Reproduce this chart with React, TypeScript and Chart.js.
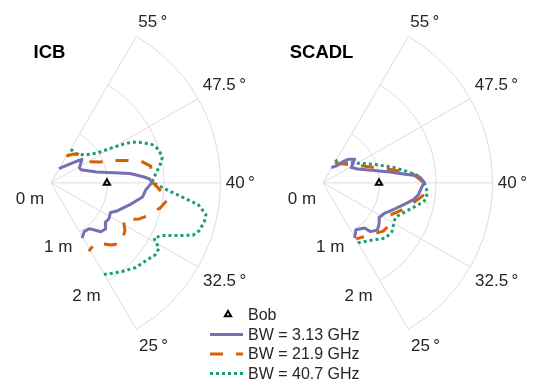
import React, { useEffect, useRef } from "react";
import { Chart, registerables } from "chart.js";

Chart.register(...registerables);

// ---------------- data ----------------
const PANEL_TITLES = ["ICB", "SCADL"];
const SERIES_LABELS = ["BW = 3.13 GHz", "BW = 21.9 GHz", "BW = 40.7 GHz"];
const BOB_LABEL = "Bob";
const BOB_THETA = 40;
const BOB_R = 0.99;

const THETA_TICKS = [25, 32.5, 40, 47.5, 55];
const THETA_TICK_LABELS = ["25\u2009°", "32.5\u2009°", "40\u2009°", "47.5\u2009°", "55\u2009°"];
const R_TICKS = [0, 1, 2];
const R_TICK_LABELS = ["0 m", "1 m", "2 m"];
const R_RINGS = [1, 2, 3];
const THETA_MIN = 25;
const THETA_MAX = 55;
const R_MAX = 3;

// ICB panel
const ICB_BW1_THETA = [55.2, 51.4, 49.95, 49.35, 47.0, 45.9, 43.4, 42.3, 41.7, 41.0, 40.6, 40.07, 38.9, 37.8, 36.1, 34.05, 33.35, 31.9, 31.0, 29.9, 28.8, 28.05, 27.35, 26.0, 24.8];
const ICB_BW1_R = [0.29, 0.47, 0.61, 0.69, 0.57, 0.58, 0.83, 1.12, 1.41, 1.62, 1.74, 1.79, 1.68, 1.64, 1.45, 1.26, 1.18, 1.21, 1.19, 1.27, 1.24, 1.13, 1.06, 1.05, 1.13];

const ICB_BW2_THETA = [55.1, 53.2, 51.9, 47.3, 45.8, 44.85, 44.1, 43.4, 42.4, 40.1, 39.45, 38.0, 36.8, 35.4, 34.4, 33.2, 31.75, 29.8, 28.5, 26.55, 24.7];
const ICB_BW2_R = [0.55, 0.64, 0.7, 0.77, 0.95, 1.2, 1.42, 1.64, 1.79, 1.79, 1.88, 2.09, 1.99, 1.83, 1.69, 1.44, 1.56, 1.65, 1.54, 1.33, 1.39];

const ICB_BW3_THETA = [54.9, 53.0, 51.3, 49.5, 48.3, 47.6, 47.1, 46.7, 46.0, 45.2, 44.3, 43.2, 42.4, 41.6, 40.8, 40.1, 39.5, 38.9, 38.35, 37.9, 37.1, 36.4, 35.5, 34.9, 34.2, 33.6, 32.9, 32.4, 32.15, 31.3, 30.1, 28.7, 27.25, 25.9, 24.9];
const ICB_BW3_R = [0.7, 0.67, 0.71, 0.82, 0.97, 1.22, 1.45, 1.62, 1.77, 1.92, 2.0, 2.02, 1.96, 1.89, 1.83, 1.79, 1.94, 2.14, 2.38, 2.63, 2.8, 2.8, 2.76, 2.68, 2.39, 2.18, 2.07, 2.18, 2.24, 2.25, 2.18, 2.13, 2.03, 1.94, 1.88];

// SCADL panel
const SCADL_BW1_THETA = [55.4, 52.9, 51.7, 50.9, 49.25, 47.2, 45.5, 43.4, 42.3, 41.6, 41.2, 40.9, 40.1, 39.2, 38.2, 37.35, 36.2, 34.85, 33.45, 32.1, 30.95, 29.7, 28.5, 28.1, 26.2, 24.9];
const SCADL_BW1_R = [0.31, 0.39, 0.52, 0.61, 0.7, 0.57, 0.66, 0.93, 1.2, 1.43, 1.6, 1.71, 1.79, 1.74, 1.7, 1.63, 1.48, 1.34, 1.22, 1.17, 1.23, 1.28, 1.21, 1.09, 1.02, 1.13];

const SCADL_BW2_THETA = [54.85, 52.5, 49.7, 46.1, 44.4, 43.1, 42.2, 41.45, 40.1, 38.15, 36.9, 34.95, 33.55, 31.7, 30.25, 27.5, 25.1];
const SCADL_BW2_R = [0.42, 0.45, 0.53, 0.74, 0.92, 1.16, 1.38, 1.6, 1.77, 1.78, 1.64, 1.45, 1.32, 1.39, 1.37, 1.23, 1.16];

const SCADL_BW3_THETA = [55.5, 52.75, 49.8, 46.3, 44.65, 43.1, 42.0, 41.1, 40.1, 38.6, 37.4, 36.5, 35.3, 33.6, 32.4, 31.1, 29.55, 27.9, 26.25, 24.8];
const SCADL_BW3_R = [0.47, 0.43, 0.57, 0.81, 1.01, 1.28, 1.49, 1.68, 1.79, 1.86, 1.82, 1.7, 1.56, 1.42, 1.45, 1.5, 1.48, 1.36, 1.28, 1.23];

const PANEL_SERIES = [
  [
    [ICB_BW1_THETA, ICB_BW1_R],
    [ICB_BW2_THETA, ICB_BW2_R],
    [ICB_BW3_THETA, ICB_BW3_R],
  ],
  [
    [SCADL_BW1_THETA, SCADL_BW1_R],
    [SCADL_BW2_THETA, SCADL_BW2_R],
    [SCADL_BW3_THETA, SCADL_BW3_R],
  ],
];

// ---------------- styles / layout ----------------
const W = 536;
const H = 388;
const PX_PER_M = 57.8;
const ORIGIN_PX = [46, 324.3];
const ORIGIN_Y_PX = 182.5;
const THETA_CENTER = 40;
const ANGLE_STRETCH = 120 / (THETA_MAX - THETA_MIN);

const X_MIN = -ORIGIN_PX[0] / PX_PER_M;
const X_MAX = X_MIN + W / PX_PER_M;
const Y_MAX = ORIGIN_Y_PX / PX_PER_M;
const Y_MIN = Y_MAX - H / PX_PER_M;
const PANEL_OFFSET = (ORIGIN_PX[1] - ORIGIN_PX[0]) / PX_PER_M;

const SERIES_COLORS = ["#7570b3", "#d95f02", "#1b9e77"];
const SERIES_DASH = [[], [13, 13], [3, 3]];
const GRID_COLOR = "#dcdcdc";
const TEXT_COLOR = "#262626";
const FONT_FAMILY = '"Liberation Sans", Arial, Helvetica, sans-serif';

const THETA_LABEL_DX = [3.2, 5.2, 5.3, 4.9, 2.5];
const THETA_LABEL_DY = [18, 14.7, 0.8, -13.8, -15.3];
const R_LABEL_DX = -21;
const R_LABEL_DY = 16;
const TITLE_DY = -124.5;

const LEGEND_SAMPLE_X0 = 210;
const LEGEND_SAMPLE_X1 = 243;
const LEGEND_TEXT_X = 248;
const LEGEND_ROW_Y = [314.5, 334.5, 354, 373.5];

const dispRad = (theta: number) => ((theta - THETA_CENTER) * ANGLE_STRETCH * Math.PI) / 180;
const toXY = (theta: number, r: number, off: number) => {
  const a = dispRad(theta);
  return { x: off + r * Math.cos(a), y: r * Math.sin(a) };
};

const polarGridPlugin = {
  id: "polarGrid",
  beforeDatasetsDraw(chart: any) {
    const { ctx, scales } = chart;
    const xs = scales.x;
    const ys = scales.y;
    PANEL_TITLES.forEach((title, p) => {
      const off = p * PANEL_OFFSET;
      const cx = xs.getPixelForValue(off);
      const cy = ys.getPixelForValue(0);
      const pxm = xs.getPixelForValue(off + 1) - cx;
      ctx.save();
      ctx.strokeStyle = GRID_COLOR;
      ctx.lineWidth = 1;
      R_RINGS.forEach((r) => {
        ctx.beginPath();
        ctx.arc(cx, cy, r * pxm, -dispRad(THETA_MAX), -dispRad(THETA_MIN), false);
        ctx.stroke();
      });
      THETA_TICKS.forEach((t) => {
        const pt = toXY(t, R_MAX, off);
        ctx.beginPath();
        ctx.moveTo(cx, cy);
        ctx.lineTo(xs.getPixelForValue(pt.x), ys.getPixelForValue(pt.y));
        ctx.stroke();
      });
      ctx.fillStyle = TEXT_COLOR;
      ctx.font = `17px ${FONT_FAMILY}`;
      ctx.textBaseline = "middle";
      ctx.textAlign = "left";
      THETA_TICKS.forEach((t, i) => {
        const pt = toXY(t, R_MAX, off);
        ctx.fillText(
          THETA_TICK_LABELS[i],
          xs.getPixelForValue(pt.x) + THETA_LABEL_DX[i],
          ys.getPixelForValue(pt.y) + THETA_LABEL_DY[i]
        );
      });
      ctx.textAlign = "center";
      R_TICKS.forEach((r, i) => {
        const pt = toXY(THETA_MIN, r, off);
        ctx.fillText(
          R_TICK_LABELS[i],
          xs.getPixelForValue(pt.x) + R_LABEL_DX,
          ys.getPixelForValue(pt.y) + R_LABEL_DY
        );
      });
      ctx.fillStyle = "#000";
      ctx.font = `bold 18.5px ${FONT_FAMILY}`;
      ctx.textBaseline = "alphabetic";
      ctx.fillText(title, cx - 1.5, cy + TITLE_DY);
      ctx.restore();
    });
  },
};

const legendPlugin = {
  id: "customLegend",
  afterDraw(chart: any) {
    const { ctx } = chart;
    ctx.save();
    ctx.font = `16px ${FONT_FAMILY}`;
    ctx.textBaseline = "middle";
    ctx.textAlign = "left";
    const mx = (LEGEND_SAMPLE_X0 + LEGEND_SAMPLE_X1) / 2 + 1.5;
    const my = LEGEND_ROW_Y[0];
    const rad = 3.6;
    ctx.beginPath();
    for (let k = 0; k < 3; k++) {
      const a = (k * 2 * Math.PI) / 3;
      const px = mx + Math.sin(a) * rad;
      const py = my - Math.cos(a) * rad;
      if (k === 0) ctx.moveTo(px, py);
      else ctx.lineTo(px, py);
    }
    ctx.closePath();
    ctx.fillStyle = "#fff";
    ctx.fill();
    ctx.strokeStyle = "#000";
    ctx.lineWidth = 2;
    ctx.stroke();
    ctx.fillStyle = TEXT_COLOR;
    ctx.fillText(BOB_LABEL, LEGEND_TEXT_X, my + 1);
    SERIES_LABELS.forEach((lab, i) => {
      const y = LEGEND_ROW_Y[i + 1];
      ctx.beginPath();
      ctx.strokeStyle = SERIES_COLORS[i];
      ctx.lineWidth = 3;
      ctx.lineCap = "butt";
      ctx.setLineDash(SERIES_DASH[i]);
      ctx.moveTo(LEGEND_SAMPLE_X0, y);
      ctx.lineTo(LEGEND_SAMPLE_X1, y);
      ctx.stroke();
      ctx.setLineDash([]);
      ctx.fillStyle = TEXT_COLOR;
      ctx.fillText(lab, LEGEND_TEXT_X, y + 1);
    });
    ctx.restore();
  },
};

export default function App() {
  const canvasRef = useRef<HTMLCanvasElement | null>(null);

  useEffect(() => {
    const canvas = canvasRef.current;
    if (!canvas) return;
    const datasets: any[] = [];
    PANEL_SERIES.forEach((series, p) => {
      const off = p * PANEL_OFFSET;
      datasets.push({
        label: BOB_LABEL,
        data: [toXY(BOB_THETA, BOB_R, off)],
        showLine: false,
        pointStyle: "triangle",
        pointRadius: 3.6,
        borderWidth: 2,
        borderColor: "#000",
        backgroundColor: "#fff",
        order: 0,
        clip: false,
      });
      series.forEach(([thetas, rs], i) => {
        datasets.push({
          label: SERIES_LABELS[i],
          data: thetas.map((t, k) => toXY(t, rs[k], off)),
          showLine: true,
          borderColor: SERIES_COLORS[i],
          backgroundColor: SERIES_COLORS[i],
          borderWidth: 3,
          borderDash: SERIES_DASH[i],
          borderCapStyle: "butt",
          borderJoinStyle: "round",
          pointRadius: 0,
          tension: 0,
          fill: false,
          order: i + 1,
          clip: false,
        });
      });
    });

    const chart = new Chart(canvas, {
      type: "scatter",
      data: { datasets },
      options: {
        responsive: false,
        animation: false,
        devicePixelRatio: 1,
        events: [],
        layout: { padding: 0 },
        scales: {
          x: { type: "linear", display: false, min: X_MIN, max: X_MAX },
          y: { type: "linear", display: false, min: Y_MIN, max: Y_MAX },
        },
        plugins: {
          legend: { display: false },
          tooltip: { enabled: false },
        },
      },
      plugins: [polarGridPlugin, legendPlugin],
    } as any);
    return () => chart.destroy();
  }, []);

  return (
    <div style={{ position: "fixed", left: 0, top: 0, width: W, height: H, background: "#fff" }}>
      <canvas ref={canvasRef} width={W} height={H} style={{ display: "block" }} />
    </div>
  );
}
